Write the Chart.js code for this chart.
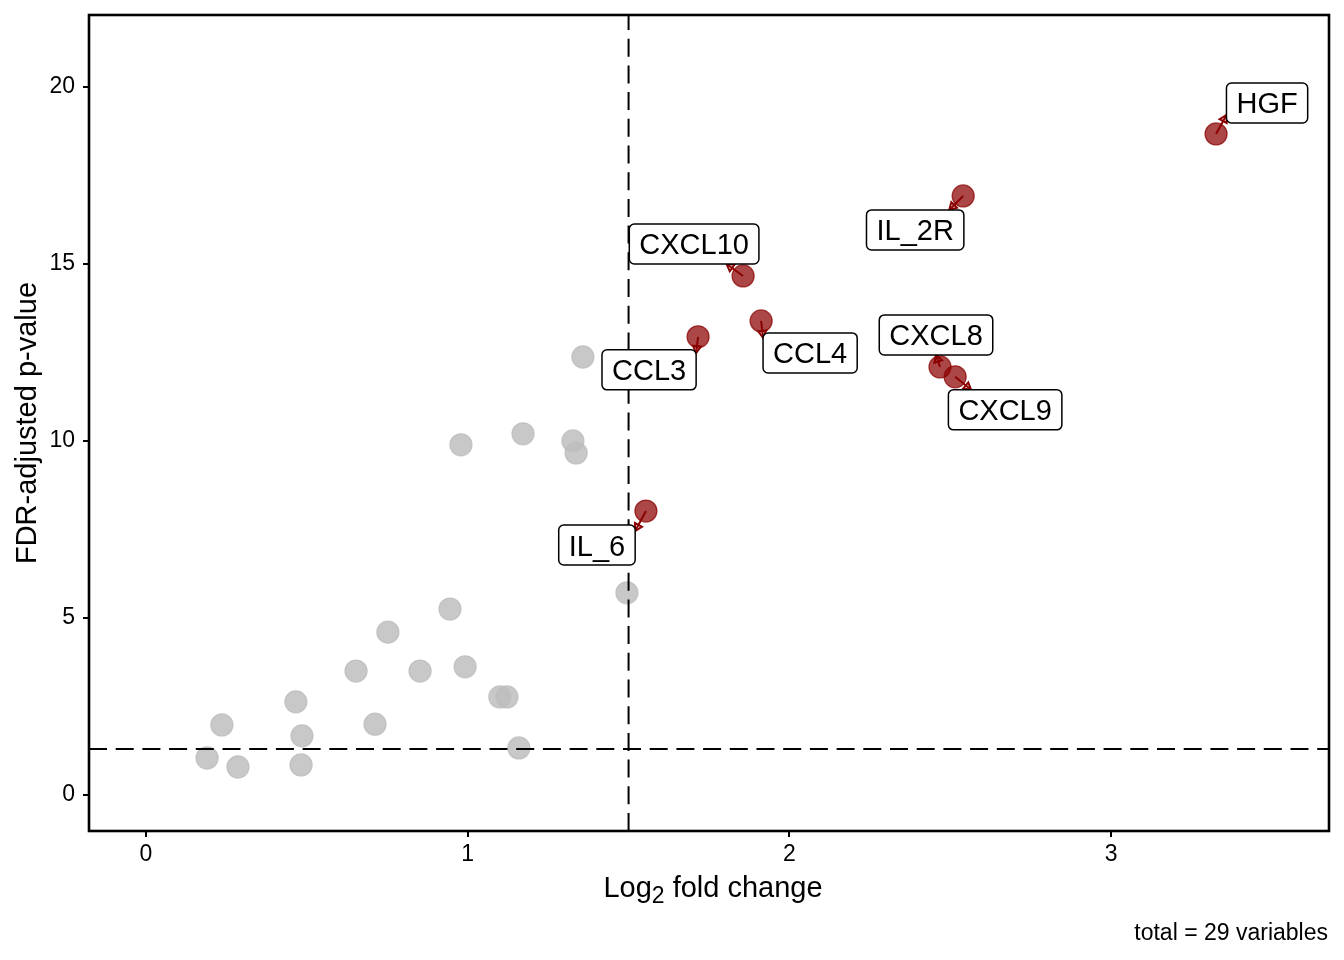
<!DOCTYPE html>
<html>
<head>
<meta charset="utf-8">
<script src="https://cdn.jsdelivr.net/npm/chart.js@4.4.1/dist/chart.umd.min.js"></script>
<style>
html,body{margin:0;padding:0;background:#ffffff;}
#wrap{width:1344px;height:960px;}
</style>
</head>
<body>
<div id="wrap"><canvas id="c" width="1344" height="960"></canvas></div>
<script>
const FONT = '"Liberation Sans", Arial, Helvetica, sans-serif';

// ---- data: non-significant variables (grey) ----
const greyX = [0.190, 0.286, 0.236, 0.466, 0.485, 0.482, 0.653, 0.712, 0.752, 0.852, 0.945,
               0.992, 0.979, 1.100, 1.122, 1.159, 1.172, 1.327, 1.337, 1.358, 1.495];
const greyY = [1.045, 0.790, 1.980, 2.630, 1.670, 0.850, 3.500, 2.000, 4.600, 3.500, 5.250,
               3.620, 9.890, 2.770, 2.770, 1.330, 10.200, 10.000, 9.660, 12.370, 5.710];

// ---- data: significant variables (red, labelled) ----
const sigNames = ['HGF', 'IL_2R', 'CXCL10', 'CCL4', 'CCL3', 'CXCL8', 'CXCL9', 'IL_6'];
const sigX = [3.326, 2.540, 1.856, 1.912, 1.716, 2.468, 2.515, 1.554];
const sigY = [18.67, 16.92, 14.66, 13.39, 12.94, 12.09, 11.81, 8.02];

// ---- axes / thresholds / caption ----
const xTicks = [0, 1, 2, 3];
const yTicks = [0, 5, 10, 15, 20];
const fcCutoff = 1.5;
const pCutoff = 0.05;
const totalVariables = 29;
const xTitleMain = 'Log';
const xTitleSub = '2';
const xTitleRest = ' fold change';
const yTitle = 'FDR-adjusted p-value';
const captionText = 'total = ' + totalVariables + ' variables';

// ---- label placement (layout only, pixel offsets of label box centre from its point) ----
const labelDx = [51, -48, -49, 49, -49, -4, 50, -49];
const labelDy = [-31, 34, -32, 32, 33, -32, 33, 34];
// where the connector meets the box (fraction of box width / height)
const anchorX = [0, 0.85, 0.75, 0, 1, 0.5, 0.2, 1];
const anchorY = [0.8, 0, 1, 0.12, 0.08, 1, 0, 0.15];

const greyFill = 'rgba(190,190,190,0.85)';
const redFill = 'rgba(139,0,0,0.72)';
const darkRed = '#8B0000';

function roundRectPath(ctx, x, y, w, h, r) {
  ctx.beginPath();
  ctx.moveTo(x + r, y);
  ctx.lineTo(x + w - r, y);
  ctx.arcTo(x + w, y, x + w, y + r, r);
  ctx.lineTo(x + w, y + h - r);
  ctx.arcTo(x + w, y + h, x + w - r, y + h, r);
  ctx.lineTo(x + r, y + h);
  ctx.arcTo(x, y + h, x, y + h - r, r);
  ctx.lineTo(x, y + r);
  ctx.arcTo(x, y, x + r, y, r);
  ctx.closePath();
}

const overlay = {
  id: 'overlay',
  afterDatasetsDraw(chart) {
    const ctx = chart.ctx, a = chart.chartArea;
    const xs = chart.scales.x, ys = chart.scales.y;
    ctx.save();
    ctx.beginPath();
    ctx.rect(a.left, a.top, a.right - a.left, a.bottom - a.top);
    ctx.clip();
    // threshold lines
    ctx.strokeStyle = '#000';
    ctx.lineWidth = 2;
    ctx.setLineDash([18, 8.7]);
    const vx = xs.getPixelForValue(fcCutoff);
    ctx.beginPath(); ctx.moveTo(vx, a.bottom); ctx.lineTo(vx, a.top); ctx.stroke();
    const hy = ys.getPixelForValue(-Math.log10(pCutoff));
    ctx.beginPath(); ctx.moveTo(a.left, hy); ctx.lineTo(a.right, hy); ctx.stroke();
    ctx.setLineDash([]);

    ctx.font = '29px ' + FONT;
    const boxes = sigNames.map((name, i) => {
      const px = xs.getPixelForValue(sigX[i]);
      const py = ys.getPixelForValue(sigY[i]);
      const tw = ctx.measureText(name).width;
      const bw = tw + 20, bh = 40;
      const cx = px + labelDx[i], cy = py + labelDy[i];
      const bx = cx - bw / 2, by = cy - bh / 2;
      return {name, px, py, bx, by, bw, bh, cx, cy,
              ex: bx + anchorX[i] * bw, ey: by + anchorY[i] * bh};
    });
    // connectors with arrowheads
    ctx.strokeStyle = darkRed;
    ctx.lineWidth = 2;
    ctx.lineJoin = 'miter';
    boxes.forEach(b => {
      ctx.beginPath(); ctx.moveTo(b.px, b.py); ctx.lineTo(b.ex, b.ey); ctx.stroke();
      const ang = Math.atan2(b.ey - b.py, b.ex - b.px);
      const L = 8, h = Math.PI / 6;
      ctx.beginPath();
      ctx.moveTo(b.ex - L * Math.cos(ang - h), b.ey - L * Math.sin(ang - h));
      ctx.lineTo(b.ex, b.ey);
      ctx.lineTo(b.ex - L * Math.cos(ang + h), b.ey - L * Math.sin(ang + h));
      ctx.closePath();
      ctx.stroke();
    });
    // label boxes
    boxes.forEach(b => {
      roundRectPath(ctx, b.bx, b.by, b.bw, b.bh, 5);
      ctx.fillStyle = '#ffffff';
      ctx.fill();
      ctx.strokeStyle = '#000';
      ctx.lineWidth = 1.5;
      ctx.stroke();
      ctx.fillStyle = '#000';
      ctx.textAlign = 'center';
      ctx.textBaseline = 'alphabetic';
      ctx.fillText(b.name, b.cx, b.cy + 10.5);
    });
    ctx.restore();
  },
  afterDraw(chart) {
    const ctx = chart.ctx, a = chart.chartArea;
    ctx.save();
    // panel border
    ctx.strokeStyle = '#000';
    ctx.lineWidth = 2.6;
    ctx.strokeRect(a.left, a.top, a.right - a.left, a.bottom - a.top);
    // x title with subscript
    ctx.fillStyle = '#000';
    ctx.textBaseline = 'alphabetic';
    ctx.textAlign = 'left';
    const fMain = '29px ' + FONT, fSub = '23px ' + FONT;
    ctx.font = fMain;
    const w1 = ctx.measureText(xTitleMain).width;
    const w3 = ctx.measureText(xTitleRest).width;
    ctx.font = fSub;
    const w2 = ctx.measureText(xTitleSub).width;
    const total = w1 + w2 + w3;
    let sx = (a.left + a.right) / 2 - total / 2 + 4;
    const base = 897;
    ctx.font = fMain; ctx.fillText(xTitleMain, sx, base);
    ctx.font = fSub; ctx.fillText(xTitleSub, sx + w1, base + 6);
    ctx.font = fMain; ctx.fillText(xTitleRest, sx + w1 + w2, base);
    // y title
    ctx.save();
    ctx.translate(36, (a.top + a.bottom) / 2);
    ctx.rotate(-Math.PI / 2);
    ctx.textAlign = 'center';
    ctx.font = fMain;
    ctx.fillText(yTitle, 0, 0);
    ctx.restore();
    // caption
    ctx.font = '23px ' + FONT;
    ctx.textAlign = 'right';
    ctx.fillText(captionText, 1328, 940);
    ctx.restore();
  }
};

const tickFont = {family: FONT, size: 23};

new Chart(document.getElementById('c'), {
  type: 'scatter',
  data: {
    datasets: [
      {
        label: 'not significant',
        data: greyX.map((v, i) => ({x: v, y: greyY[i]})),
        backgroundColor: greyFill,
        borderColor: greyFill,
        borderWidth: 1.3,
        pointRadius: 11
      },
      {
        label: 'significant',
        data: sigX.map((v, i) => ({x: v, y: sigY[i]})),
        backgroundColor: redFill,
        borderColor: redFill,
        borderWidth: 1.3,
        pointRadius: 11
      }
    ]
  },
  options: {
    responsive: false,
    animation: false,
    devicePixelRatio: 1,
    events: [],
    layout: {padding: {top: 15, right: 15, left: 0, bottom: 0}},
    plugins: {legend: {display: false}, tooltip: {enabled: false}},
    scales: {
      x: {
        type: 'linear',
        min: -0.177,
        max: 3.677,
        afterBuildTicks: s => { s.ticks = xTicks.map(v => ({value: v})); },
        afterFit: s => { s.height = 129; s.paddingLeft = 0; s.paddingRight = 0; },
        grid: {display: true, drawOnChartArea: false, drawTicks: true, tickLength: 6, color: '#000', lineWidth: 2},
        border: {display: false},
        ticks: {font: tickFont, color: '#000', padding: 4, maxRotation: 0, autoSkip: false}
      },
      y: {
        type: 'linear',
        min: -1.017,
        max: 22.03,
        afterBuildTicks: s => { s.ticks = yTicks.map(v => ({value: v})); },
        afterFit: s => { s.width = 89; s.paddingTop = 0; s.paddingBottom = 0; },
        grid: {display: true, drawOnChartArea: false, drawTicks: true, tickLength: 6, color: '#000', lineWidth: 2},
        border: {display: false},
        ticks: {font: tickFont, color: '#000', padding: 8, autoSkip: false}
      }
    }
  },
  plugins: [overlay]
});
</script>
</body>
</html>
